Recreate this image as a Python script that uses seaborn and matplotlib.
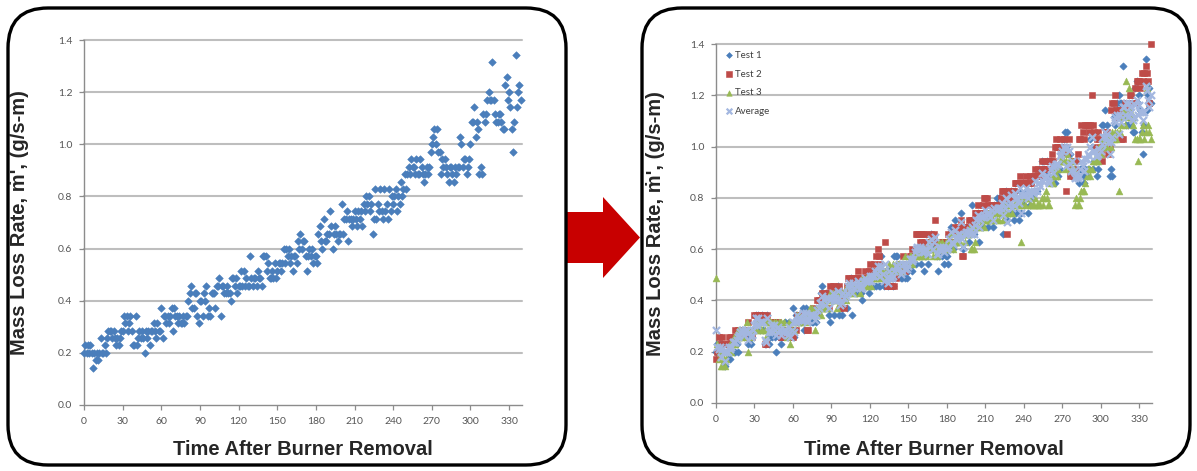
import numpy as np
import pandas as pd
import matplotlib
matplotlib.use("Agg")
import matplotlib.pyplot as plt
from matplotlib.patches import FancyBboxPatch, Polygon
import seaborn as sns

# Each logged mass-loss reading is a whole number of balance steps (g/s-m per step)
STEP = 1.0 / 35.0

# One reading per second, written in blocks of ten seconds
TEST1_STEPS = [
    7, 8, 7, 8, 7, 8, 7, 5, 7, 6,  7, 6, 7, 9, 7, 7, 8, 7, 9, 10,
    10, 10, 9, 10, 9, 8, 9, 8, 9, 10,  10, 12, 11, 12, 10, 11, 12, 10, 8, 8,
    12, 8, 9, 10, 9, 10, 9, 7, 10, 9,  10, 8, 10, 10, 11, 10, 9, 11, 10, 10,
    13, 9, 12, 12, 11, 12, 11, 12, 13, 10,  13, 12, 12, 11, 12, 11, 11, 12, 11, 12,
    12, 14, 15, 16, 13, 13, 15, 15, 12, 11,  14, 14, 12, 15, 14, 16, 12, 13, 12, 15,
    15, 15, 13, 16, 16, 17, 12, 16, 16, 15,  15, 16, 15, 15, 14, 17, 17, 16, 17, 15,
    16, 16, 18, 16, 18, 16, 17, 16, 16, 20,  17, 16, 17, 17, 16, 18, 17, 17, 16, 20,
    20, 20, 18, 19, 17, 17, 18, 17, 19, 17,  18, 19, 19, 18, 19, 21, 19, 21, 20, 21,
    19, 20, 18, 20, 20, 19, 22, 21, 23, 21,  22, 22, 20, 18, 20, 21, 20, 21, 19, 20,
    20, 19, 23, 24, 22, 21, 25, 22, 22, 23,  23, 26, 24, 21, 23, 24, 23, 22, 23, 23,
    27, 23, 25, 25, 26, 22, 25, 25, 24, 25,  26, 25, 24, 26, 25, 26, 24, 27, 26, 28,
    27, 28, 26, 27, 23, 25, 29, 25, 27, 26,  29, 26, 25, 29, 26, 27, 25, 29, 26, 28,
    27, 28, 29, 26, 28, 27, 30, 28, 29, 31,  29, 31, 32, 31, 33, 32, 32, 31, 33, 31,
    31, 33, 32, 31, 30, 31, 32, 31, 32, 34,  35, 36, 37, 35, 37, 34, 34, 31, 33, 32,
    33, 32, 31, 30, 32, 32, 31, 30, 32, 31,  32, 32, 36, 35, 32, 33, 33, 31, 32, 33,
    35, 38, 38, 40, 36, 38, 37, 31, 32, 31,  39, 38, 39, 41, 42, 41, 41, 46, 41, 39,
    38, 38, 39, 39, 38, 37, 37, 43, 44, 41,  42, 40, 37, 34, 38, 47, 40, 42, 43, 41,
]

TEST2_STEPS = [
    6, 7, 9, 8, 7, 9, 8, 7, 8, 8,  9, 8, 9, 8, 9, 10, 9, 10, 10, 9,
    10, 10, 9, 10, 10, 11, 10, 10, 9, 10,  12, 12, 11, 12, 12, 12, 11, 12, 8, 8,
    12, 11, 10, 11, 10, 11, 11, 10, 11, 10,  10, 9, 9, 9, 9, 10, 9, 9, 9, 10,
    9, 10, 10, 12, 12, 11, 12, 11, 12, 12,  12, 10, 10, 12, 12, 12, 13, 12, 12, 14,
    14, 14, 14, 15, 15, 14, 14, 15, 13, 16,  15, 16, 16, 14, 15, 15, 16, 13, 14, 15,
    13, 15, 16, 17, 17, 16, 17, 17, 16, 17,  17, 18, 17, 17, 16, 17, 18, 17, 17, 18,
    19, 18, 17, 19, 18, 20, 21, 20, 19, 18,  18, 17, 22, 16, 16, 17, 16, 16, 17, 16,
    17, 18, 18, 19, 18, 18, 20, 18, 19, 19,  19, 20, 20, 21, 20, 21, 23, 23, 23, 22,
    23, 22, 23, 22, 23, 21, 22, 22, 23, 22,  23, 25, 21, 22, 21, 22, 21, 22, 22, 21,
    22, 23, 22, 23, 22, 23, 24, 23, 23, 24,  24, 25, 20, 20, 24, 23, 24, 25, 24, 25,
    24, 25, 26, 26, 27, 25, 26, 26, 27, 28,  28, 28, 27, 27, 26, 27, 26, 27, 27, 26,
    27, 27, 28, 29, 29, 29, 28, 23, 28, 29,  29, 28, 29, 30, 30, 30, 30, 31, 30, 30,
    30, 30, 31, 30, 30, 31, 30, 31, 31, 32,  31, 32, 31, 31, 33, 32, 32, 33, 32, 33,
    32, 33, 34, 33, 35, 36, 35, 35, 36, 35,  35, 36, 35, 29, 34, 36, 31, 32, 33, 31,
    32, 33, 34, 36, 36, 38, 37, 36, 38, 38,  38, 37, 38, 42, 38, 37, 35, 36, 37, 36,
    34, 33, 35, 36, 37, 37, 34, 35, 40, 41,  41, 42, 40, 40, 39, 40, 36, 36, 40, 41,
    41, 40, 41, 42, 42, 41, 41, 43, 44, 44,  44, 43, 45, 44, 45, 46, 45, 44, 41, 49,
]

TEST3_STEPS = [
    17, 8, 6, 7, 5, 5, 6, 5, 6, 7,  7, 8, 7, 8, 9, 8, 9, 10, 9, 10,
    10, 9, 10, 10, 11, 7, 10, 9, 10, 10,  10, 11, 10, 11, 11, 10, 10, 11, 10, 9,
    11, 10, 11, 11, 10, 11, 10, 11, 10, 11,  10, 11, 10, 11, 10, 9, 10, 11, 8, 10,
    11, 10, 11, 12, 11, 12, 11, 11, 12, 12,  12, 11, 12, 13, 12, 13, 12, 10, 13, 12,
    13, 13, 12, 13, 14, 13, 14, 13, 14, 15,  14, 15, 14, 14, 13, 15, 15, 14, 15, 15,
    15, 14, 16, 15, 16, 15, 16, 16, 15, 16,  16, 16, 15, 16, 17, 16, 16, 17, 16, 17,
    17, 16, 17, 17, 18, 17, 18, 18, 17, 18,  18, 17, 18, 18, 17, 19, 18, 18, 19, 18,
    19, 18, 19, 19, 18, 19, 19, 20, 19, 19,  19, 20, 20, 19, 20, 20, 21, 20, 20, 21,
    21, 20, 21, 21, 20, 21, 22, 21, 21, 20,  21, 21, 20, 21, 22, 21, 22, 21, 21, 22,
    21, 22, 22, 23, 22, 21, 22, 22, 23, 22,  22, 23, 23, 23, 22, 23, 23, 23, 24, 21,
    21, 21, 22, 24, 24, 25, 24, 25, 25, 24,  25, 25, 26, 25, 25, 26, 25, 26, 26, 25,
    26, 25, 26, 26, 25, 26, 27, 26, 26, 27,  27, 26, 27, 27, 28, 27, 27, 28, 22, 27,
    28, 27, 28, 28, 28, 27, 27, 27, 27, 28,  27, 27, 27, 27, 28, 27, 28, 29, 28, 27,
    27, 30, 31, 30, 32, 31, 31, 32, 33, 33,  33, 33, 32, 33, 34, 33, 33, 32, 33, 32,
    27, 28, 27, 27, 28, 29, 29, 29, 30, 31,  32, 32, 31, 32, 33, 33, 33, 34, 33, 35,
    34, 35, 36, 35, 36, 35, 36, 36, 35, 37,  36, 37, 36, 37, 29, 37, 38, 39, 40, 38,
    44, 39, 43, 40, 39, 38, 39, 36, 36, 33,  36, 36, 37, 38, 36, 37, 43, 38, 37, 36,
]

SERIES_NAMES = ["Test 1", "Test 2", "Test 3", "Average"]
SERIES_COLORS = ["#4A7EBB", "#BE4B48", "#98B954", "#A3B7E0"]
X_TICKS = [0, 30, 60, 90, 120, 150, 180, 210, 240, 270, 300, 330]
Y_TICKS = [0.0, 0.2, 0.4, 0.6, 0.8, 1.0, 1.2, 1.4]
X_LABEL = "Time After Burner Removal"
Y_LABEL = "Mass Loss Rate, ṁ', (g/s-m)"

# ---- tidy tables -------------------------------------------------------
time_s = np.arange(len(TEST1_STEPS))
tests = {
    "Test 1": np.array(TEST1_STEPS) * STEP,
    "Test 2": np.array(TEST2_STEPS) * STEP,
    "Test 3": np.array(TEST3_STEPS) * STEP,
}
tests["Average"] = np.mean([tests["Test 1"], tests["Test 2"], tests["Test 3"]], axis=0)
frames = {name: pd.DataFrame({"time": time_s, "rate": vals}) for name, vals in tests.items()}

# ---- styling -----------------------------------------------------------
sns.set_theme(style="white")
plt.rcParams["font.family"] = ["Lato", "DejaVu Sans"]
LABEL_FONT = dict(family=["Liberation Sans", "DejaVu Sans"], fontweight="bold", fontsize=14.5)

W, H = 1197, 471
fig = plt.figure(figsize=(W / 100, H / 100), dpi=100)
fig.patch.set_facecolor("white")

# Frame layer in pixel units (origin top-left)
bg = fig.add_axes([0, 0, 1, 1], zorder=0)
bg.set_xlim(0, W)
bg.set_ylim(H, 0)
bg.axis("off")
bg.add_patch(Polygon([(560, 212), (603, 212), (603, 197), (640, 237.5),
                      (603, 278), (603, 263), (560, 263)],
                     closed=True, fc="#C80000", ec="none"))
for x0, x1 in [(8, 566), (642, 1190)]:
    bg.add_patch(FancyBboxPatch((x0, 8), x1 - x0, 457,
                                boxstyle="round,pad=0,rounding_size=40",
                                fc="white", ec="black", lw=2.4))


def style_axes(ax, ylabel_x, xlabel_y):
    ax.set_facecolor("white")
    ax.set_xlim(0, 340)
    ax.set_ylim(0, 1.4)
    ax.set_xticks(X_TICKS)
    ax.set_xticklabels([str(t) for t in X_TICKS])
    ax.set_yticks(Y_TICKS)
    ax.set_yticklabels([f"{v:.1f}" for v in Y_TICKS])
    ax.grid(False)
    ax.set_axisbelow(True)
    for v in Y_TICKS[1:]:
        ax.axhline(v, color="#BEBEBE", lw=1.5, zorder=0.5, clip_on=False)
    for side in ("top", "right"):
        ax.spines[side].set_visible(False)
    for side in ("left", "bottom"):
        ax.spines[side].set_color("#8C8C8C")
        ax.spines[side].set_linewidth(1.0)
    ax.tick_params(axis="both", which="major", direction="out", length=3.5,
                   width=0.9, color="#8C8C8C", labelsize=7.5,
                   labelcolor="#555555", pad=5, bottom=True, left=True)
    ax.set_xlabel(X_LABEL, **LABEL_FONT)
    ax.set_ylabel(Y_LABEL, **LABEL_FONT)
    ax.yaxis.set_label_coords(ylabel_x, 0.5)
    ax.xaxis.set_label_coords(0.5, xlabel_y)


# ---- left: single test ---------------------------------------------------
ax1 = fig.add_axes([84 / W, 1 - 405 / H, 438 / W, 365 / H], zorder=2)
sns.scatterplot(data=frames["Test 1"], x="time", y="rate", ax=ax1,
                marker="D", s=15, color=SERIES_COLORS[0],
                edgecolor=SERIES_COLORS[0], linewidth=0.4, clip_on=False, zorder=3)
style_axes(ax1, -0.125, -0.095)

# ---- right: all tests with average ---------------------------------------
ax2 = fig.add_axes([716 / W, 1 - 403 / H, 436 / W, 359 / H], zorder=2)
marker_spec = {
    "Test 1": dict(marker="D", s=14),
    "Test 2": dict(marker="s", s=22),
    "Test 3": dict(marker="^", s=24),
    "Average": dict(marker="x", s=26),
}
for name, color in zip(SERIES_NAMES, SERIES_COLORS):
    spec = marker_spec[name]
    if spec["marker"] == "x":
        sns.scatterplot(data=frames[name], x="time", y="rate", ax=ax2,
                        marker="x", s=spec["s"], color=color, linewidth=1.6,
                        label=name, clip_on=False, zorder=3)
    else:
        sns.scatterplot(data=frames[name], x="time", y="rate", ax=ax2,
                        marker=spec["marker"], s=spec["s"], color=color,
                        edgecolor=color, linewidth=0.4, label=name,
                        clip_on=False, zorder=3)
style_axes(ax2, -0.118, -0.103)
leg = ax2.legend(loc="upper left", bbox_to_anchor=(0.0, 1.0), frameon=False,
                 fontsize=7, handletextpad=0.1, labelspacing=1.0,
                 borderaxespad=0.3, handlelength=1.2, markerscale=0.8)
for text in leg.get_texts():
    text.set_color("#404040")

fig.savefig("out.png", dpi=100, facecolor="white")
